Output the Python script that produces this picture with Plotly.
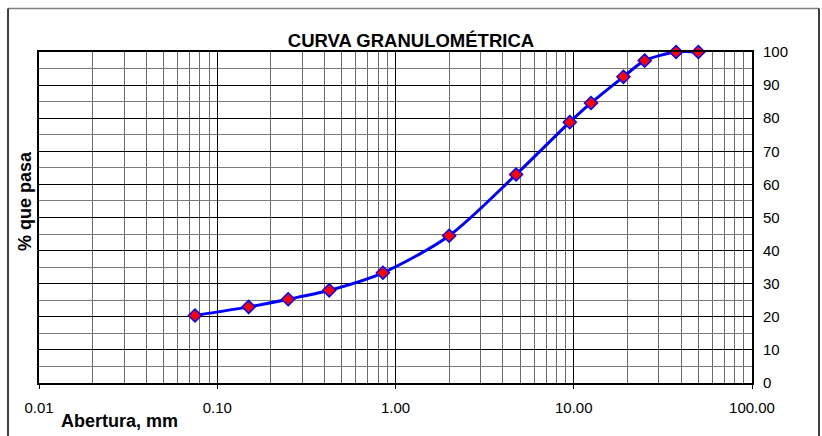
import plotly.graph_objects as go

# Data
abertura_mm = [0.075, 0.15, 0.25, 0.425, 0.85, 2.0, 4.75, 9.5, 12.5, 19.0, 25.0, 37.5, 50.0]
pct_pasa = [20.4, 23.0, 25.3, 28.0, 33.3, 44.5, 63.0, 78.8, 84.6, 92.5, 97.4, 100.0, 100.0]

x_tickvals = [0.01, 0.1, 1, 10, 100]
x_ticktext = ["0.01", "0.10", "1.00", "10.00", "100.00"]
y_tickvals = [0, 10, 20, 30, 40, 50, 60, 70, 80, 90, 100]

title_text = "CURVA GRANULOMÉTRICA"
x_label = "Abertura, mm"
y_label = "% que pasa"

FONT = "Liberation Sans, Arial, sans-serif"

x_minor = [m * d for d in [0.01, 0.1, 1, 10] for m in range(2, 10)]

fig = go.Figure()
fig.add_trace(go.Scatter(
    x=abertura_mm, y=pct_pasa, mode="lines+markers",
    line=dict(color="#0000FF", width=3, shape="spline", smoothing=0.8),
    marker=dict(symbol="diamond", size=10, color="#FF0000",
                line=dict(color="#0000FF", width=1.5)),
    cliponaxis=False, showlegend=False,
))

W, H = 822, 436
L, R, T, B = 39, 752, 52, 383
pw, ph = R - L, B - T

fig.update_layout(
    width=W, height=H,
    margin=dict(l=L, r=W - R, t=T, b=H - B),
    paper_bgcolor="white", plot_bgcolor="white",
    font=dict(family=FONT, size=15, color="black"),
    title=dict(text="<b>" + title_text + "</b>", x=411 / W, xanchor="center",
               y=1 - 40.5 / H, yanchor="middle", yref="container",
               font=dict(family=FONT, size=18.5, color="black")),
    xaxis=dict(
        type="log", range=[-2, 2],
        tickmode="array", tickvals=x_tickvals, ticktext=x_ticktext,
        ticks="outside", ticklen=4, tickcolor="black", tickwidth=1,
        showgrid=True, gridcolor="black", gridwidth=1,
        minor=dict(tickmode="array", tickvals=x_minor, showgrid=True,
                   gridcolor="#6a6a6a", gridwidth=1, ticks=""),
        showline=True, linecolor="black", linewidth=2, mirror=True,
        zeroline=False, ticklabelstandoff=6,
    ),
    yaxis=dict(
        range=[0, 100], side="right",
        tickmode="array", tickvals=y_tickvals,
        ticks="", showgrid=True, gridcolor="black", gridwidth=1,
        minor=dict(dtick=5, tick0=0, showgrid=True, gridcolor="#7a7a7a", gridwidth=1),
        showline=True, linecolor="black", linewidth=2, mirror=True,
        zeroline=False, ticklabelstandoff=6,
    ),
)

fig.add_annotation(text="<b>" + x_label + "</b>", xref="paper", yref="paper",
                   x=(119 - L) / pw, y=(B - 421) / ph, xanchor="center", yanchor="middle",
                   showarrow=False, font=dict(family=FONT, size=18, color="black"))
fig.add_annotation(text="<b>" + y_label + "</b>", xref="paper", yref="paper",
                   x=(25 - L) / pw, y=(B - 201) / ph, xanchor="center", yanchor="middle",
                   textangle=-90, showarrow=False,
                   font=dict(family=FONT, size=18, color="black"))

# outer frame
def px(xp):
    return (xp - L) / pw
def py(yp):
    return (B - yp) / ph
fig.add_shape(type="line", xref="paper", yref="paper", x0=px(8), x1=px(819), y0=py(8.5), y1=py(8.5),
              line=dict(color="#808080", width=1.5))
fig.add_shape(type="line", xref="paper", yref="paper", x0=px(8), x1=px(8), y0=py(8.5), y1=py(440),
              line=dict(color="black", width=1.5))
fig.add_shape(type="line", xref="paper", yref="paper", x0=px(819), x1=px(819), y0=py(8.5), y1=py(440),
              line=dict(color="black", width=1.5))

fig.write_html("out.html", config={"displayModeBar": False},
               post_script="document.body.style.margin='0';document.body.style.overflow='hidden';")
